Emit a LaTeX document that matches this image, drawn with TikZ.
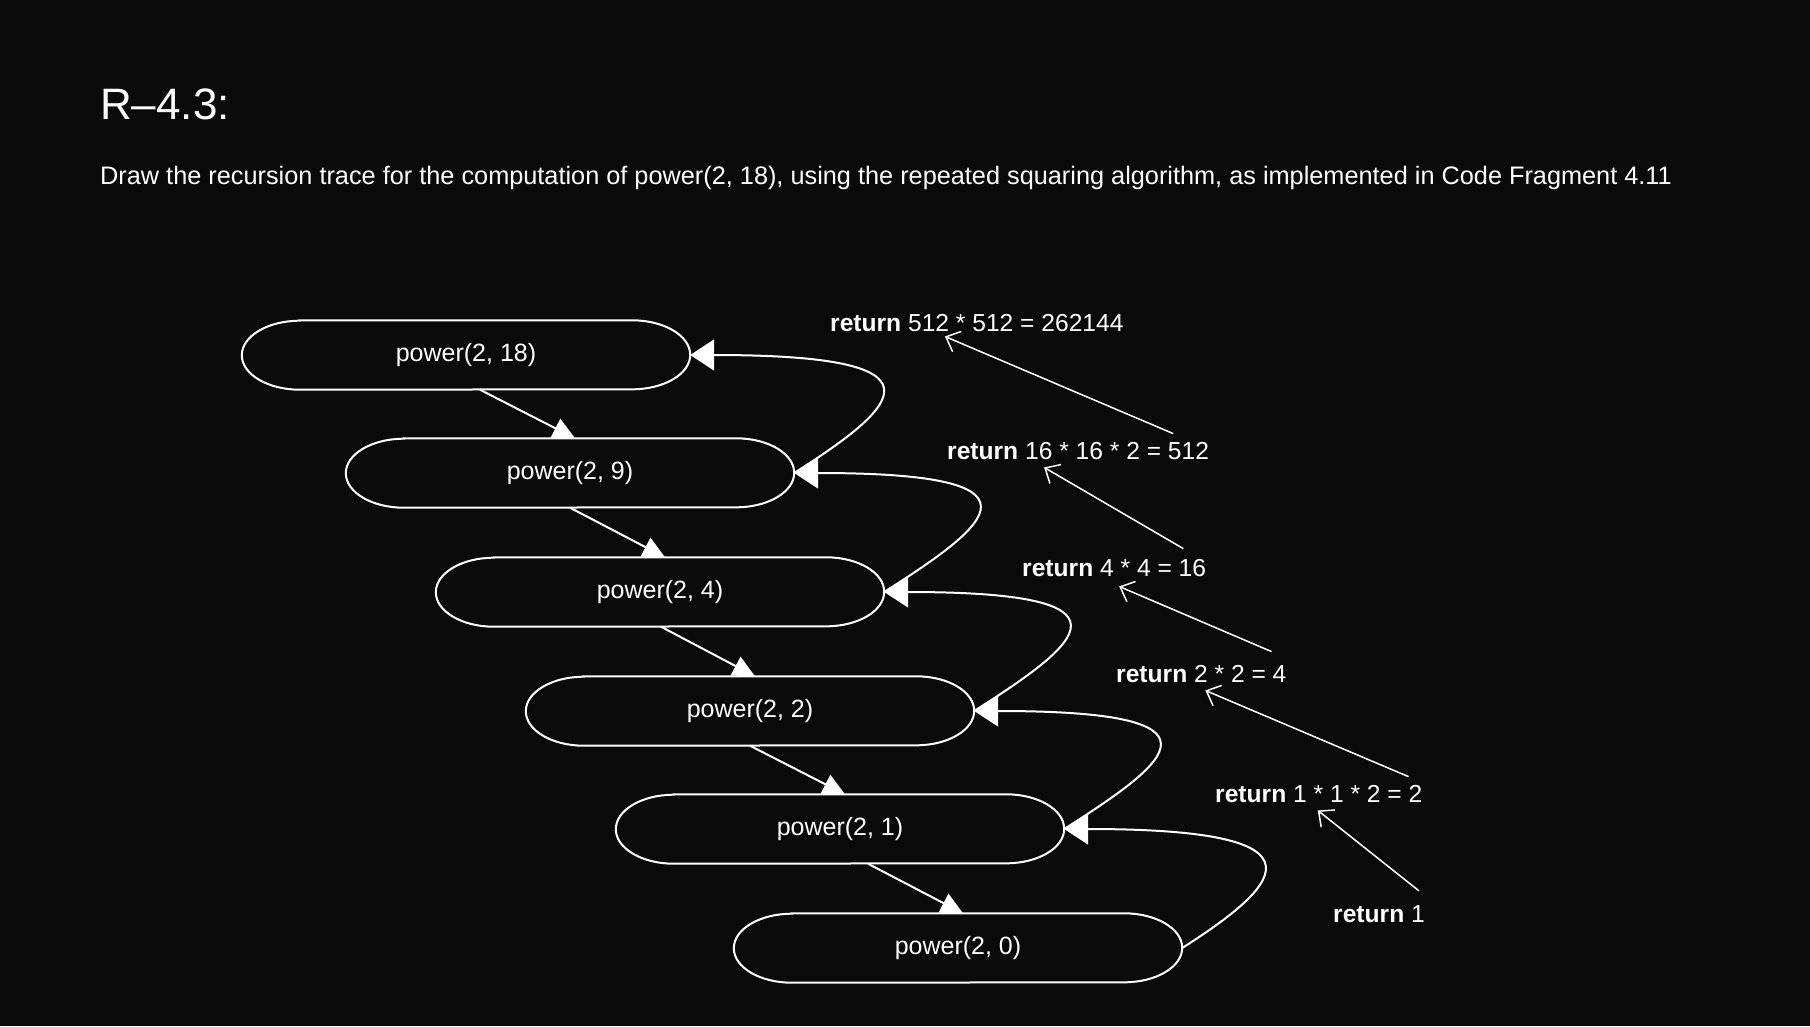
\documentclass[tikz,border=0pt]{standalone}
\usepackage{fontspec}
\setmainfont{Liberation Sans}
\usepackage{tikz}
\usetikzlibrary{arrows.meta, positioning, calc}
\definecolor{mybg}{RGB}{10,10,10}
\definecolor{myink}{RGB}{255,255,255}
\tikzset{
  callnode/.style={rectangle, minimum width=448pt, minimum height=69pt,
    inner sep=0pt, text=myink, font=\fontsize{25}{30}\selectfont},
  oval/.style={draw=myink, line width=2pt},
  retlabel/.style={anchor=base west, inner sep=0pt, text=myink,
    font=\fontsize{24.6}{29}\selectfont},
  callarrow/.style={-{Triangle[width=21pt,length=22pt]}, line width=2pt, color=myink},
  retcurve/.style={-{Triangle[width=31pt,length=24pt]}, line width=2pt, color=myink},
  retarrow/.style={-{Straight Barb[length=12pt,width=22pt]}, line width=1.5pt, color=myink}
}
\begin{document}
\begin{tikzpicture}[x=1pt, y=-1pt]
  % background
  \fill[mybg] (0,0) rectangle (1810,1026);
  \useasboundingbox (0,0) rectangle (1810,1026);

  % heading
  \node[anchor=base west, inner sep=0pt, text=myink, font=\fontsize{44}{52}\selectfont]
    (title) at (100,119) {R–4.3:};
  \node[anchor=base west, inner sep=0pt, text=myink, font=\fontsize{25.3}{30}\selectfont]
    (task) at (100,184) {Draw the recursion trace for the computation of power(2, 18), using the repeated squaring algorithm, as implemented in Code Fragment 4.11};

  % calls
  \node[callnode] (p18) at (466,355) {power(2, 18)};
  \node[callnode] (p9)  at (570,473) {power(2, 9)};
  \node[callnode] (p4)  at (660,592) {power(2, 4)};
  \node[callnode] (p2)  at (750,711) {power(2, 2)};
  \node[callnode] (p1)  at (840,829) {power(2, 1)};
  \node[callnode] (p0)  at (958,948) {power(2, 0)};
  \foreach \n in {p18,p9,p4,p2,p1,p0}
    \draw[oval] ([xshift=58pt]\n.north west) -- ([xshift=-58pt]\n.north east)
      arc[start angle=90, end angle=-90, x radius=58pt, y radius=34.5pt]
      -- ([xshift=58pt]\n.south west)
      arc[start angle=270, end angle=90, x radius=58pt, y radius=34.5pt] -- cycle;

  % recursive calls
  \foreach \a/\b/\s in {p18/p9/14, p9/p4/0, p4/p2/1, p2/p1/0, p1/p0/28}
    \draw[callarrow] ([xshift=\s pt]\a.south) -- ([xshift=5pt]\b.north);

  % returns
  \foreach \a/\b in {p9/p18, p4/p9, p2/p4, p1/p2, p0/p1}
    \draw[retcurve] (\a.east) .. controls +(110,-70) and +(260,0) .. (\b.east);

  % returned values
  \node[retlabel] (r0) at (830,331)  {\textbf{return} 512 * 512 = 262144};
  \node[retlabel] (r1) at (947,459)  {\textbf{return} 16 * 16 * 2 = 512};
  \node[retlabel] (r2) at (1022,576) {\textbf{return} 4 * 4 = 16};
  \node[retlabel] (r3) at (1116,682) {\textbf{return} 2 * 2 = 4};
  \node[retlabel] (r4) at (1215,802) {\textbf{return} 1 * 1 * 2 = 2};
  \node[retlabel] (r5) at (1333,922) {\textbf{return} 1};

  \draw[retarrow] ([xshift=-36pt,yshift=8pt]r1.north east)  -- ([xshift=-32pt,yshift=-5pt]r0.south);
  \draw[retarrow] ([xshift=-23pt,yshift=10pt]r2.north east) -- ([xshift=-34pt,yshift=-8pt]r1.south);
  \draw[retarrow] ([xshift=-15pt,yshift=13pt]r3.north east) -- ([xshift=5pt,yshift=-10pt]r2.south);
  \draw[retarrow] ([xshift=-14pt,yshift=8pt]r4.north east)  -- ([xshift=4pt,yshift=-8pt]r3.south);
  \draw[retarrow] ([xshift=-6pt,yshift=14pt]r5.north east)  -- ([xshift=-1pt,yshift=-8pt]r4.south);
\end{tikzpicture}
\end{document}
